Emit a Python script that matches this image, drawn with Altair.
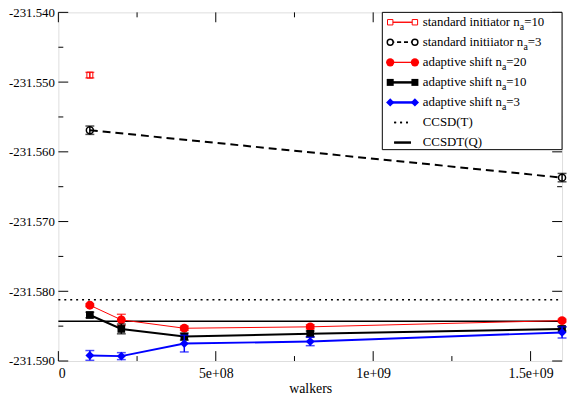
import altair as alt
import pandas as pd

# ---------------- data ----------------
walkers = [1e8, 2e8, 4e8, 8e8, 1.6e9]

std10_x = [1e8]
std10_y = [-231.5490]
std10_err = [0.0004]

std3_x = [1e8, 1.6e9]
std3_y = [-231.5569, -231.5637]
std3_err = [0.0006, 0.0006]

ad20_y = [-231.5820, -231.5841, -231.5853, -231.5851, -231.5842]
ad20_err = [0.0002, 0.0008, 0.0003, 0.0003, 0.0002]

ad10_y = [-231.5834, -231.5854, -231.5865, -231.5861, -231.5854]
ad10_err = [0.0004, 0.0007, 0.0005, 0.0004, 0.0003]

ad3_y = [-231.5892, -231.5893, -231.5875, -231.5872, -231.5859]
ad3_err = [0.0007, 0.0005, 0.0012, 0.0006, 0.0008]

ccsd_t = -231.5812
ccsdt_q = -231.5843

x_major = [0, 5e8, 1e9, 1.5e9]
x_major_labels = ["0", "5e+08", "1e+09", "1.5e+09"]
x_minor = [2.5e8, 7.5e8, 1.25e9]
y_major = [-231.590, -231.580, -231.570, -231.560, -231.550, -231.540]
y_minor = [-231.585, -231.575, -231.565, -231.555, -231.545]

legend_main = ["standard initiator n", "standard initiiator n", "adaptive shift n",
               "adaptive shift n", "adaptive shift n", "CCSD(T)", "CCSDT(Q)"]
legend_sub = ["a", "a", "a", "a", "a", "", ""]
legend_tail = ["=10", "=3", "=20", "=10", "=3", "", ""]

# ---------------- layout ----------------
W, H = 510, 353
FONT = "Liberation Serif, Times New Roman, DejaVu Serif, serif"
XD = [0, 1.6e9]
YD = [-231.590, -231.540]

xs = alt.Scale(domain=XD, nice=False, zero=False)
ys = alt.Scale(domain=YD, nice=False, zero=False)

label_expr = " : ".join(
    [f"datum.value == {v} ? '{l}'" for v, l in zip(x_major, x_major_labels)]
) + " : ''"
y_label_expr = "'-' + format(abs(datum.value), '.3f')"


def series(xv, yv, ev, color, lw, dash, shape, filled, size, sw):
    df = pd.DataFrame({"x": xv, "y": yv, "lo": [a - b for a, b in zip(yv, ev)],
                       "hi": [a + b for a, b in zip(yv, ev)]})
    base = alt.Chart(df)
    layers = []
    if len(xv) > 1:
        kw = dict(color=color, strokeWidth=lw)
        if dash:
            kw["strokeDash"] = dash
        layers.append(base.mark_line(**kw).encode(
            x=alt.X("x:Q", scale=xs), y=alt.Y("y:Q", scale=ys)))
    layers.append(base.mark_rule(color=color, strokeWidth=1.5).encode(
        x=alt.X("x:Q", scale=xs), y=alt.Y("lo:Q", scale=ys), y2="hi:Q"))
    for f in ["lo", "hi"]:
        layers.append(base.mark_tick(color=color, orient="horizontal", size=9, thickness=1.5).encode(
            x=alt.X("x:Q", scale=xs), y=alt.Y(f"{f}:Q", scale=ys)))
    pk = dict(shape=shape, size=size, color=color, strokeWidth=sw, opacity=1)
    if filled:
        pk["filled"] = True
    else:
        pk["filled"] = False
        pk["fill"] = "white"
        pk["fillOpacity"] = 0
    layers.append(base.mark_point(**pk).encode(
        x=alt.X("x:Q", scale=xs), y=alt.Y("y:Q", scale=ys)))
    return layers


axis_df = pd.DataFrame({"x": [0.0], "y": [-231.54]})
axes = alt.Chart(axis_df).mark_point(opacity=0).encode(
    x=alt.X("x:Q", scale=xs, title="walkers",
            axis=alt.Axis(values=x_major, labelExpr=label_expr, ticks=False, domain=False,
                          grid=False, labelFont=FONT, labelFontSize=14, labelColor="black",
                          labelPadding=6, titleFont=FONT, titleFontSize=14,
                          titleFontWeight="normal", titleColor="black", titlePadding=1)),
    y=alt.Y("y:Q", scale=ys, title=None,
            axis=alt.Axis(values=y_major, labelExpr=y_label_expr, ticks=False, domain=False,
                          grid=False, labelFont=FONT, labelFontSize=13, labelColor="black",
                          labelPadding=4)),
)

# inward ticks
xt = pd.DataFrame({"v": x_major + x_minor, "len": [10] * len(x_major) + [5] * len(x_minor)})
yt = pd.DataFrame({"v": y_major + y_minor, "len": [10] * len(y_major) + [5] * len(y_minor)})
tick_layers = []
for L in [10, 5]:
    xd = xt[xt["len"] == L]
    yd = yt[yt["len"] == L]
    tick_layers.append(alt.Chart(xd).mark_rule(color="black", strokeWidth=1).encode(
        x=alt.X("v:Q", scale=xs), y=alt.value(H), y2=alt.value(H - L)))
    tick_layers.append(alt.Chart(xd).mark_rule(color="black", strokeWidth=1).encode(
        x=alt.X("v:Q", scale=xs), y=alt.value(0), y2=alt.value(L)))
    tick_layers.append(alt.Chart(yd).mark_rule(color="black", strokeWidth=1).encode(
        y=alt.Y("v:Q", scale=ys), x=alt.value(0), x2=alt.value(L)))
    tick_layers.append(alt.Chart(yd).mark_rule(color="black", strokeWidth=1).encode(
        y=alt.Y("v:Q", scale=ys), x=alt.value(W), x2=alt.value(W - L)))

# reference lines
ref_t = alt.Chart(pd.DataFrame({"y": [ccsd_t]})).mark_rule(
    color="black", strokeWidth=1.5, strokeDash=[2, 4]).encode(
    y=alt.Y("y:Q", scale=ys), x=alt.value(0), x2=alt.value(W))
ref_q = alt.Chart(pd.DataFrame({"y": [ccsdt_q]})).mark_rule(
    color="black", strokeWidth=1.5).encode(
    y=alt.Y("y:Q", scale=ys), x=alt.value(0), x2=alt.value(W))

data_layers = []
data_layers += series(std10_x, std10_y, std10_err, "#ff0000", 1, None, "square", False, 36, 1)
data_layers += series(std3_x, std3_y, std3_err, "black", 2, [8, 5], "circle", False, 50, 1.5)
data_layers += series(walkers, ad20_y, ad20_err, "#ff0000", 1, None, "circle", True, 80, 1)
data_layers += series(walkers, ad10_y, ad10_err, "black", 2, None, "square", True, 60, 1)
data_layers += series(walkers, ad3_y, ad3_err, "#0000ff", 2, None, "diamond", True, 80, 1)

# ---------------- manual legend ----------------
TW = {" ": 250, "(": 333, ")": 333, "=": 564, "C": 667, "D": 722, "Q": 722, "S": 556,
      "T": 611, "a": 444, "d": 500, "e": 444, "f": 333, "h": 500, "i": 278, "n": 500,
      "o": 500, "p": 500, "r": 333, "s": 389, "t": 278, "v": 500}
for d in "0123456789":
    TW[d] = 500


def tw(s, fs):
    return sum(TW.get(c, 500) for c in s) * fs / 1000.0


LX0, LX1, LT = 336, 361, 369
row_y = [10 + 20.3 * i for i in range(7)]
box = alt.Chart(pd.DataFrame({"a": [0]})).mark_rect(
    fill="white", stroke="black", strokeWidth=1).encode(
    x=alt.value(328), x2=alt.value(W), y=alt.value(0), y2=alt.value(139))

txt_rows = []
for i in range(7):
    m, s, t = legend_main[i], legend_sub[i], legend_tail[i]
    y = row_y[i]
    txt_rows.append({"px": LT, "py": y, "t": m, "fs": 13})
    if s:
        x1 = LT + tw(m, 13)
        txt_rows.append({"px": x1, "py": y + 5, "t": s, "fs": 10})
        txt_rows.append({"px": x1 + tw(s, 10), "py": y, "t": t, "fs": 13})
tdf = pd.DataFrame(txt_rows)
legend_text = []
for fs in [13, 10]:
    legend_text.append(alt.Chart(tdf[tdf["fs"] == fs]).mark_text(
        align="left", baseline="middle", font=FONT, fontSize=fs, color="black").encode(
        x=alt.X("px:Q", scale=None), y=alt.Y("py:Q", scale=None), text="t:N"))

leg_style = [
    ("#ff0000", 1, None, "square", False, 30, 1),
    ("black", 1.5, [4, 3], "circle", False, 36, 1.5),
    ("#ff0000", 1, None, "circle", True, 70, 1),
    ("black", 2, None, "square", True, 50, 1),
    ("#0000ff", 2, None, "diamond", True, 70, 1),
    ("black", 1.5, [2, 4], None, False, 0, 1),
    ("black", 2, None, None, False, 0, 1),
]
legend_sym = []
for i, (c, lw, dash, shp, filled, sz, sw) in enumerate(leg_style):
    y = row_y[i]
    ldf = pd.DataFrame({"px": [LX0, LX1], "py": [y, y]})
    kw = dict(color=c, strokeWidth=lw)
    if dash:
        kw["strokeDash"] = dash
    legend_sym.append(alt.Chart(ldf).mark_rule(**kw).encode(
        x=alt.value(LX0 if shp else LX0 + 4), x2=alt.value(LX1 if shp else LX1 - 4), y=alt.value(y)))
    if shp:
        pk = dict(shape=shp, size=sz, color=c, strokeWidth=sw, opacity=1, filled=filled)
        if not filled:
            pk["fill"] = "white"
            pk["fillOpacity"] = 1
        legend_sym.append(alt.Chart(ldf).mark_point(**pk).encode(
            x=alt.X("px:Q", scale=None), y=alt.Y("py:Q", scale=None)))

chart = alt.layer(
    axes, *tick_layers, ref_t, ref_q, *data_layers, box, *legend_sym, *legend_text
).properties(
    width=W, height=H,
    autosize=alt.AutoSizeParams(type="none"),
    padding={"left": 51, "top": 2, "right": 5, "bottom": 33},
).configure_view(stroke="black", strokeWidth=1.5).configure(background="white")

chart.save("out.html", embed_options={"renderer": "svg", "actions": False})
